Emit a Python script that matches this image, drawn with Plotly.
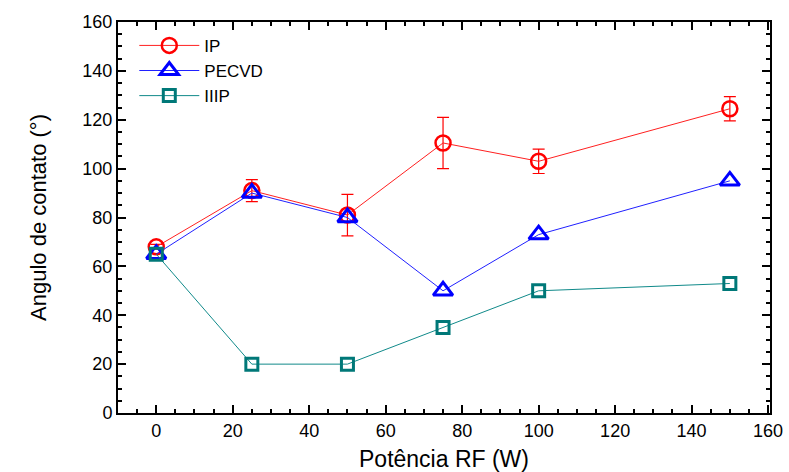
import plotly.graph_objects as go

power = [0, 25, 50, 75, 100, 150]
ip = [68, 91, 81, 110.5, 103, 124.5]
ip_err = [1, 4.5, 8.5, 10.5, 5, 5]
pecvd = [65, 90, 80, 50, 73, 95]
iiip = [65, 20, 20, 35, 50, 53]

fig = go.Figure()
fig.add_trace(go.Scatter(x=power, y=ip, name="IP", mode="lines+markers",
                         line=dict(color="#ff2020", width=1),
                         marker=dict(symbol="circle-open", size=15, color="#ff0000", line=dict(width=2.5)),
                         error_y=dict(type="data", array=ip_err, color="#ff0000", thickness=1.2, width=6)))
fig.add_trace(go.Scatter(x=power, y=pecvd, name="PECVD", mode="lines+markers",
                         line=dict(color="#2020ff", width=1),
                         marker=dict(symbol="triangle-up-open", size=17, color="#0000ff", line=dict(width=3))))
fig.add_trace(go.Scatter(x=power, y=iiip, name="IIIP", mode="lines+markers",
                         line=dict(color="#108a8a", width=1),
                         marker=dict(symbol="square-open", size=12, color="#007878", line=dict(width=3))))

axis_common = dict(showline=True, linecolor="black", linewidth=2, mirror="ticks",
                   ticks="inside", ticklen=8, tickwidth=2, tickcolor="black",
                   showgrid=False, zeroline=False, automargin=False,
                   tickfont=dict(family="Liberation Sans, Arial", size=18, color="black"),
                   minor=dict(ticks="inside", ticklen=4, tickwidth=1.5, tickcolor="black", dtick=5))

fig.update_xaxes(range=[-10, 160.5], dtick=20, tick0=0,
                 title=dict(text="Potência RF (W)", font=dict(family="Liberation Sans, Arial", size=23, color="black"), standoff=12),
                 **axis_common)
fig.update_yaxes(range=[0, 160], dtick=20,
                 title=dict(text="Angulo de contato (°)", font=dict(family="Liberation Sans, Arial", size=22, color="black"), standoff=30),
                 **axis_common)

fig.update_layout(width=789, height=472, margin=dict(l=118, r=19, t=22, b=59),
                  plot_bgcolor="white", paper_bgcolor="white",
                  showlegend=True,
                  legend=dict(x=0.025, y=0.985, xanchor="left", yanchor="top",
                              font=dict(family="Liberation Sans, Arial", size=17, color="black"),
                              bgcolor="rgba(0,0,0,0)", itemwidth=60, tracegroupgap=0))

fig.write_html("out.html")
